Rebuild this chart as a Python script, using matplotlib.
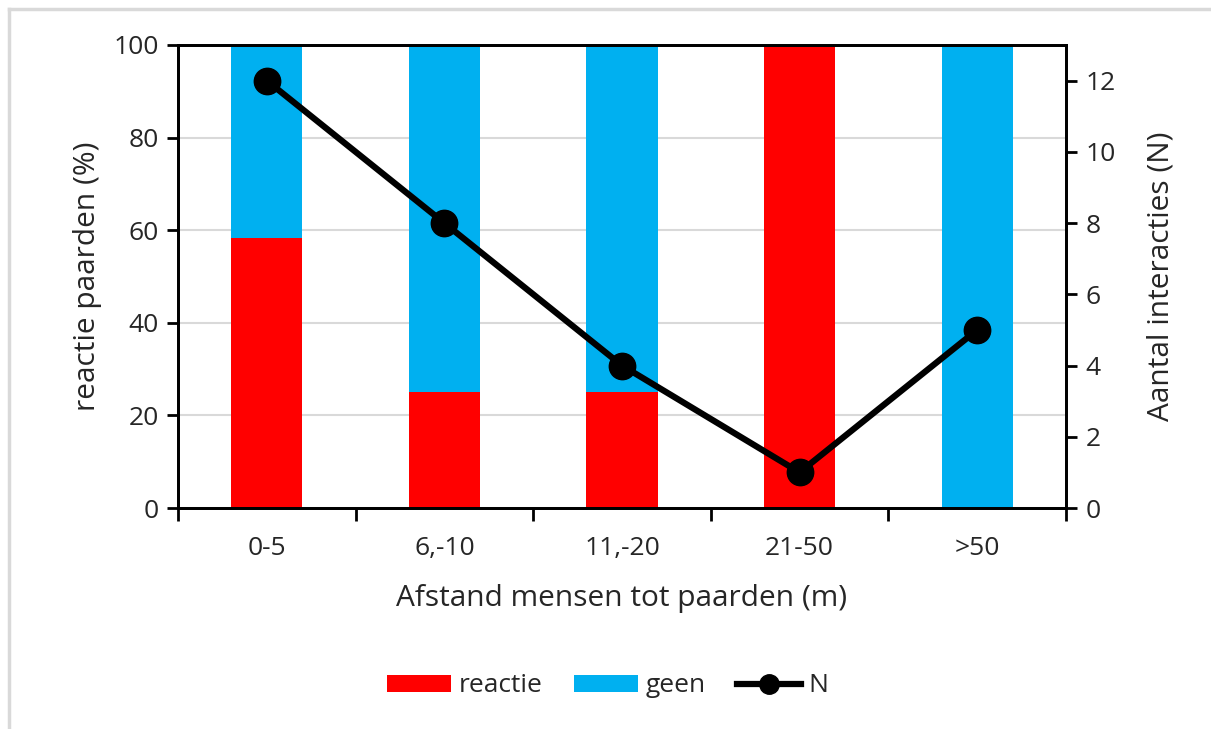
import matplotlib
matplotlib.use("Agg")
import matplotlib.pyplot as plt
from matplotlib.lines import Line2D
from matplotlib.patches import Patch
import numpy as np

categories = ['0-5', '6,-10', '11,-20', '21-50', '>50']
reactie = [58.33, 25.0, 25.0, 100.0, 0.0]
geen = [41.67, 75.0, 75.0, 0.0, 100.0]
n_interacties = [12, 8, 4, 1, 5]

plt.rcParams['font.family'] = ['Open Sans', 'DejaVu Sans']
FS = 19
FSL = 21.5
TXT = '#262626'

fig = plt.figure(figsize=(12.11, 7.29), dpi=100)
W, H = 1211, 729
ax = fig.add_axes([178 / W, 1 - 508 / H, (1066 - 178) / W, (508 - 45) / H])

x = np.arange(len(categories))
ax.bar(x, reactie, width=0.4, color='#FF0000', zorder=2)
ax.bar(x, geen, width=0.4, bottom=reactie, color='#00B0F0', zorder=2)
ax.set_xlim(-0.5, len(categories) - 0.5)
ax.set_ylim(0, 100)
ax.set_yticks([0, 20, 40, 60, 80, 100])
ax.yaxis.grid(True, color='#D9D9D9', linewidth=1.5, zorder=0)
ax.set_axisbelow(True)
ax.set_xticks(x)
ax.set_xticklabels(categories)
ax.set_xticks(np.arange(-0.5, len(categories)), minor=True)
ax.tick_params(axis='x', which='major', length=0, pad=20, labelsize=FS, labelcolor=TXT)
ax.tick_params(axis='x', which='minor', length=9, width=2, direction='out')
ax.tick_params(axis='y', length=8, width=2, direction='out', labelsize=FS, labelcolor=TXT, pad=6)
for s in ax.spines.values():
    s.set_linewidth(2)
    s.set_color('black')
ax.set_ylabel('reactie paarden (%)', fontsize=FSL, color=TXT, labelpad=8)
ax.set_xlabel('Afstand mensen tot paarden (m)', fontsize=FSL, color=TXT, labelpad=17)

ax2 = ax.twinx()
ax2.plot(x, n_interacties, color='black', linewidth=4.5, marker='o', markersize=19, zorder=3)
ax2.set_ylim(0, 13)
ax2.set_yticks([0, 2, 4, 6, 8, 10, 12])
ax2.tick_params(axis='y', length=8, width=2, direction='out', labelsize=FS, labelcolor=TXT, pad=6)
for s in ax2.spines.values():
    s.set_linewidth(2)
    s.set_color('black')
ax2.set_ylabel('Aantal interacties (N)', fontsize=FSL, color=TXT, labelpad=22)

handles = [Patch(facecolor='#FF0000', label='reactie'),
           Patch(facecolor='#00B0F0', label='geen'),
           Line2D([0], [0], color='black', linewidth=4.5, marker='o', markersize=14, label='N')]
leg = fig.legend(handles=handles, loc='center', bbox_to_anchor=(608 / W, 1 - 686 / H), ncol=3,
                 frameon=False, fontsize=FS, handlelength=2.4, handleheight=0.6,
                 columnspacing=1.2, handletextpad=0.3)
for t in leg.get_texts():
    t.set_color(TXT)

# outer chart border (top and left visible)
fig.add_artist(Line2D([9 / W, 1.0], [1 - 9 / H, 1 - 9 / H], color='#D9D9D9', linewidth=2.5, transform=fig.transFigure))
fig.add_artist(Line2D([9 / W, 9 / W], [0, 1 - 9 / H], color='#D9D9D9', linewidth=2.5, transform=fig.transFigure))

fig.savefig('out.png', dpi=100)
